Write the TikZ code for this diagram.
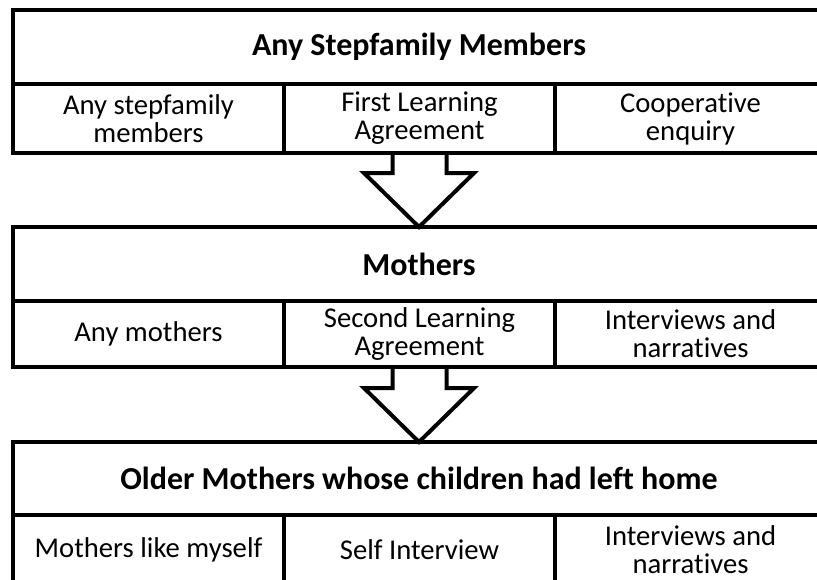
\documentclass[tikz,border=0pt]{standalone}
\usepackage{fontspec}
\setmainfont[Ligatures=NoCommon]{Carlito}
\usetikzlibrary{calc}

\begin{document}
\begin{tikzpicture}[x=0.75pt, y=-0.75pt, outer sep=0pt]

\tikzstyle{head}=[draw, line width=3pt, rectangle, minimum width=609pt, minimum height=55.5pt, anchor=north west, font=\fontsize{24}{28}\selectfont\bfseries]
\tikzstyle{cell}=[draw, line width=3pt, rectangle, minimum width=203.25pt, anchor=north west, align=center, font=\fontsize{21.5}{21}\selectfont]
\tikzstyle{blockarrow}=[draw, line width=3pt, line join=miter]

\useasboundingbox (0,0) rectangle (817,579);
\clip (0,0) rectangle (817,579);

\node[head] (h1) at (13,10) {Any Stepfamily Members};
\node[cell, minimum height=51.75pt] (l1) at (13,84) {Any stepfamily\\members}; \node[cell, minimum height=51.75pt] (m1) at (284,84) {First Learning\\Agreement}; \node[cell, minimum height=51.75pt] (r1) at (555,84) {Cooperative\\enquiry};

\node[head] (h2) at (13,227) {Mothers};
\node[cell, minimum height=49.5pt] (l2) at (13,301) {Any mothers}; \node[cell, minimum height=49.5pt] (m2) at (284,301) {Second Learning\\Agreement}; \node[cell, minimum height=49.5pt] (r2) at (555,301) {Interviews and\\narratives};

\node[head, minimum height=54.75pt] (h3) at (13,442) {Older Mothers whose children had left home};
\node[cell, minimum height=52.5pt] (l3) at (13,515) {Mothers like myself}; \node[cell, minimum height=52.5pt] (m3) at (284,515) {Self Interview}; \node[cell, minimum height=52.5pt] (r3) at (555,515) {Interviews and\\narratives};

% arrows between the blocks
\draw[blockarrow] ($(m1.south)+(-27,0)$) |- ($(h2.north)+(-55,-54)$) -- (h2.north) -- ($(h2.north)+(55,-54)$) -| ($(m1.south)+(27,0)$);
\draw[blockarrow] ($(m2.south)+(-27,0)$) |- ($(h3.north)+(-55,-54)$) -- (h3.north) -- ($(h3.north)+(55,-54)$) -| ($(m2.south)+(27,0)$);

\end{tikzpicture}
\end{document}
